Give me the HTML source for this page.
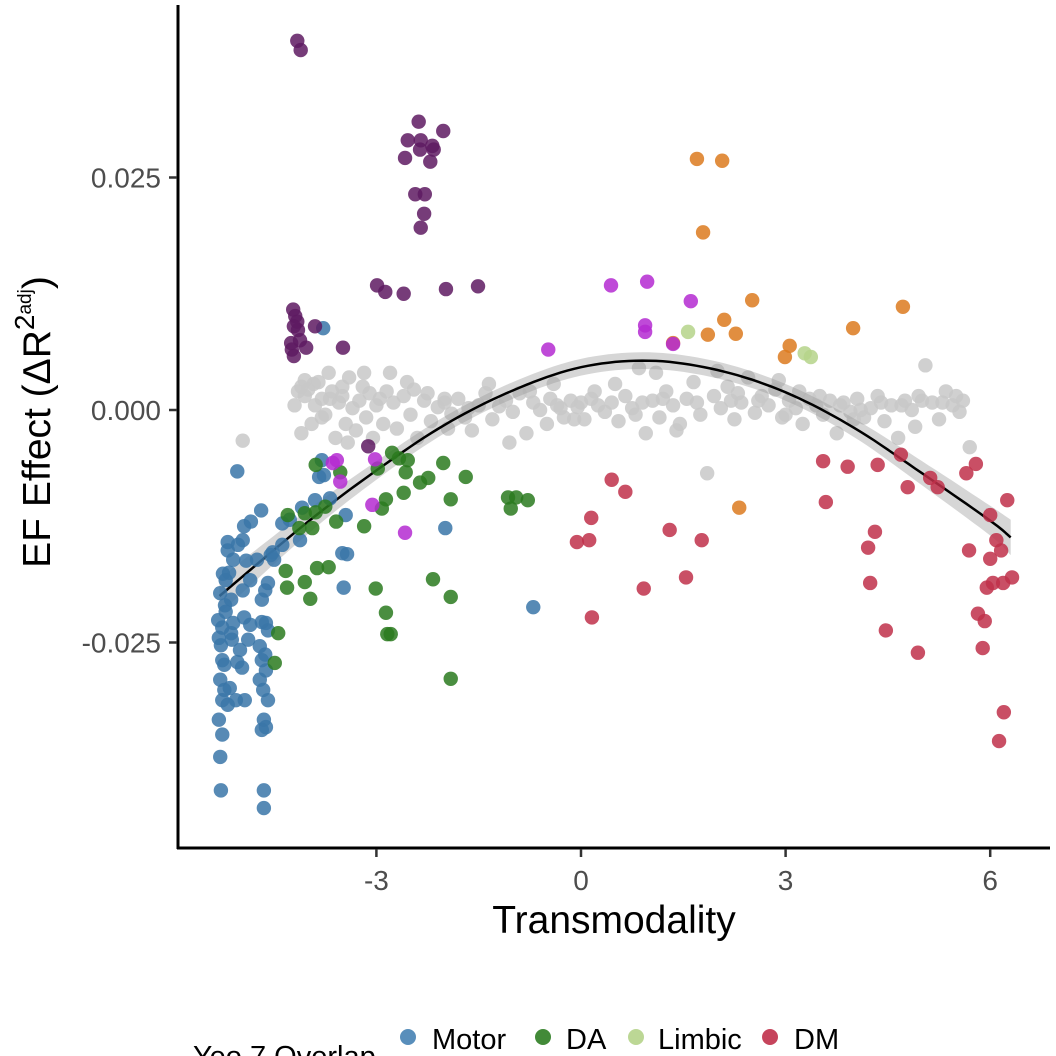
<!DOCTYPE html>
<html><head><meta charset="utf-8"><style>
html,body{margin:0;padding:0;background:#fff;overflow:hidden}
svg{display:block;font-family:"Liberation Sans",Arial,sans-serif}
</style></head><body>
<svg id="chart" width="1056" height="1056" viewBox="0 0 1056 1056">
<g id="grey-layer"></g>
<g id="smooth-layer"></g>
<g id="color-layer"></g>
<line x1="178" y1="5" x2="178" y2="849" stroke="#000" stroke-width="3"/>
<line x1="177" y1="848" x2="1050" y2="848" stroke="#000" stroke-width="3"/>
<g id="ticks"></g>
<text x="614" y="933" font-size="39" text-anchor="middle">Transmodality</text>
<text transform="translate(50,422) rotate(-90)" font-size="39" text-anchor="middle">EF Effect (ΔR<tspan font-size="28" dy="-16">2</tspan><tspan font-size="19" dy="-3">adj</tspan><tspan dy="19">)</tspan></text>
<g>
<text x="193" y="1066" font-size="29">Yeo 7 Overlap</text>
<g><circle cx="408" cy="1037" r="8" fill="#4682b4" opacity="0.9"/><text x="432" y="1049" font-size="29">Motor</text></g>
<g><circle cx="543" cy="1037" r="8" fill="#2e7d22" opacity="0.9"/><text x="566" y="1049" font-size="29">DA</text></g>
<g><circle cx="636" cy="1037" r="8" fill="#b5d38a" opacity="0.9"/><text x="658" y="1049" font-size="29">Limbic</text></g>
<g><circle cx="770" cy="1037" r="8" fill="#c0304a" opacity="0.9"/><text x="794" y="1049" font-size="29">DM</text></g>
<text x="432" y="1078" font-size="29">Visual</text>
<text x="566" y="1078" font-size="29">VA</text>
<text x="658" y="1078" font-size="29">FP</text>
<text x="794" y="1078" font-size="29">NonCl</text>
</g>
</svg>
<script>
const xTicks = [-3, 0, 3, 6];
const xTickLabels = ["-3", "0", "3", "6"];
const yTicks = [0.025, 0, -0.025];
const yTickLabels = ["0.025", "0.000", "-0.025"];
const smoothX = [-5.3, -4, -3, -2, -1, 0, 1, 2, 3, 4, 5, 6, 6.3];
const smoothY = [-0.0200, -0.0120, -0.0065, -0.0016, 0.0021, 0.0046, 0.0053, 0.0043, 0.0019, -0.0019, -0.0068, -0.0119, -0.0137];
const smoothSE = [0.0019, 0.0013, 0.0010, 0.0009, 0.0009, 0.0009, 0.0009, 0.0009, 0.0009, 0.0010, 0.0013, 0.0016, 0.0019];
const greyPts = [[-4.96,-0.0033],[-4.15,0.0020],[-4.10,0.0025],[-4.05,0.0015],[-4.0,0.0022],[-4.1,-0.0025],[-3.95,-0.0015],[-3.9,0.0005],[-3.85,0.0030],[-3.8,0.0012],[-3.75,-0.0005],[-3.7,0.0040],[-3.65,0.0020],[-3.6,-0.0030],[-3.55,0.0008],[-3.5,0.0015],[-3.45,-0.0015],[-3.4,0.0035],[-3.35,0.0002],[-3.3,-0.0022],[-3.25,0.0010],[-3.2,0.0025],[-3.15,-0.0008],[-3.1,0.0018],[-3.05,-0.0030],[-3.0,0.0005],[-2.95,0.0012],[-2.9,-0.0015],[-2.8,0.0040],[-2.75,0.0008],[-2.7,-0.0020],[-2.6,0.0015],[-2.5,-0.0005],[-2.45,0.0022],[-2.4,-0.0030],[-2.3,0.0010],[-2.2,-0.0012],[-2.1,0.0003],[-2.0,0.0008],[-1.9,-0.0004],[-1.8,0.0012],[-1.7,-0.0008],[-1.6,-0.0022],[-1.5,0.0005],[-1.4,0.0018],[-1.3,-0.0010],[-1.2,0.0004],[-1.1,0.0010],[-1.0,-0.0002],[-0.9,0.0018],[-0.8,-0.0025],[-0.7,0.0008],[-0.6,0.0000],[-0.5,-0.0015],[-0.45,0.0012],[-0.35,0.0005],[-0.25,-0.0008],[-0.15,0.0010],[-0.05,0.0003],[0.05,-0.0010],[0.15,0.0012],[0.25,0.0005],[0.35,-0.0002],[0.45,0.0008],[0.55,-0.0012],[0.65,0.0015],[0.75,0.0002],[0.85,0.0045],[0.95,-0.0025],[1.05,0.0010],[1.15,-0.0008],[1.25,0.0020],[1.35,0.0005],[1.45,-0.0015],[1.55,0.0012],[1.65,0.0030],[1.75,-0.0005],[1.85,-0.0068],[1.95,0.0015],[2.05,0.0002],[2.15,0.0025],[2.25,-0.0010],[2.35,0.0008],[2.45,0.0035],[2.55,-0.0003],[2.65,0.0015],[2.75,0.0005],[2.85,0.0022],[2.95,-0.0008],[3.05,0.0010],[3.15,0.0002],[3.25,-0.0015],[3.35,0.0012],[3.45,0.0005],[3.55,-0.0005],[3.65,0.0010],[3.75,-0.0025],[3.85,0.0008],[3.95,-0.0002],[4.05,0.0012],[4.15,-0.0008],[4.25,0.0002],[4.35,0.0015],[4.45,-0.0012],[4.55,0.0005],[4.65,-0.0030],[4.75,0.0010],[4.85,0.0000],[4.95,0.0015],[5.05,0.0048],[5.15,0.0008],[5.25,-0.0010],[5.35,0.0020],[5.45,0.0005],[5.55,-0.0002],[5.7,-0.0040],[5.6,0.0010],[-4.2,0.0005],[-3.92,0.0028],[-3.68,0.0012],[-3.42,-0.0035],[-3.18,0.0040],[-2.85,0.0020],[-2.55,0.0030],[-2.25,0.0018],[-1.95,-0.0020],[-1.65,0.0002],[-1.35,0.0028],[-1.05,-0.0035],[-0.75,0.0020],[-0.4,0.0028],[-0.1,-0.0010],[0.2,0.0020],[0.5,0.0028],[0.8,-0.0005],[1.1,0.0040],[1.4,-0.0022],[1.7,0.0008],[2.0,0.0042],[2.3,0.0018],[2.6,0.0010],[2.9,0.0032],[3.2,0.0020],[3.5,0.0015],[3.8,0.0005],[4.1,0.0000],[4.4,0.0008],[4.7,0.0005],[5.0,0.0010],[5.3,0.0008],[5.5,0.0015],[4.9,-0.0018],[4.0,-0.0010],[3.0,-0.0005],[2.2,0.0010],[1.2,0.0012],[0.9,0.0008],[0.0,0.0008],[-0.3,0.0002],[-2.0,0.0012],[-3.5,0.0025],[-3.8,-0.0008],[-4.05,0.0032]];
const motorPts = [[-5.04,-0.0066],[-5.25,-0.0176],[-5.16,-0.0175],[-5.29,-0.0197],[-5.22,-0.0210],[-5.13,-0.0204],[-5.10,-0.0229],[-5.21,-0.0217],[-5.26,-0.0234],[-5.31,-0.0245],[-5.28,-0.0253],[-5.26,-0.0269],[-5.29,-0.0290],[-5.23,-0.0301],[-5.26,-0.0312],[-5.31,-0.0333],[-5.26,-0.0349],[-5.29,-0.0373],[-5.28,-0.0409],[-5.12,-0.0247],[-5.00,-0.0258],[-5.04,-0.0271],[-4.97,-0.0277],[-5.23,-0.0274],[-5.15,-0.0299],[-5.06,-0.0312],[-5.18,-0.0317],[-4.93,-0.0312],[-4.88,-0.0247],[-4.85,-0.0231],[-4.94,-0.0223],[-4.96,-0.0194],[-4.85,-0.0183],[-4.91,-0.0162],[-4.94,-0.0125],[-4.84,-0.0120],[-5.03,-0.0145],[-4.96,-0.0140],[-5.18,-0.0142],[-4.75,-0.0161],[-4.69,-0.0108],[-4.68,-0.0204],[-4.63,-0.0194],[-4.59,-0.0186],[-4.68,-0.0228],[-4.62,-0.0229],[-4.59,-0.0237],[-4.68,-0.0269],[-4.62,-0.0280],[-4.71,-0.0290],[-4.66,-0.0301],[-4.59,-0.0312],[-4.65,-0.0333],[-4.62,-0.0341],[-4.68,-0.0344],[-4.65,-0.0409],[-4.65,-0.0428],[-4.71,-0.0254],[-4.63,-0.0263],[-4.55,-0.0156],[-4.52,-0.0153],[-4.38,-0.0122],[-4.27,-0.0118],[-4.09,-0.0105],[-3.90,-0.0097],[-3.77,-0.0070],[-3.84,-0.0072],[-3.80,-0.0054],[-3.45,-0.0113],[-3.50,-0.0154],[-3.43,-0.0155],[-3.48,-0.0191],[-3.68,-0.0095],[-3.78,0.0088],[-1.99,-0.0127],[-0.70,-0.0212],[-4.12,-0.0140],[-4.38,-0.0145],[-4.50,-0.0161],[-5.18,-0.0151],[-5.10,-0.0161],[-5.21,-0.0183],[-5.32,-0.0226],[-5.13,-0.0240]];
const daPts = [[-3.89,-0.0059],[-3.53,-0.0067],[-3.89,-0.0110],[-3.75,-0.0104],[-4.05,-0.0111],[-3.94,-0.0127],[-4.13,-0.0127],[-4.30,-0.0113],[-3.59,-0.0120],[-3.18,-0.0125],[-2.86,-0.0096],[-2.92,-0.0106],[-2.98,-0.0063],[-2.60,-0.0089],[-2.77,-0.0046],[-2.54,-0.0054],[-2.57,-0.0067],[-2.67,-0.0052],[-2.36,-0.0078],[-2.24,-0.0073],[-2.02,-0.0057],[-1.91,-0.0096],[-1.69,-0.0072],[-1.07,-0.0094],[-0.95,-0.0094],[-0.78,-0.0097],[-1.03,-0.0106],[-3.87,-0.0170],[-3.70,-0.0169],[-4.33,-0.0173],[-4.31,-0.0191],[-4.05,-0.0185],[-4.44,-0.0240],[-4.49,-0.0272],[-3.01,-0.0192],[-2.86,-0.0218],[-2.84,-0.0241],[-2.79,-0.0241],[-2.17,-0.0182],[-1.91,-0.0201],[-1.91,-0.0289],[-3.97,-0.0203]];
const limbicPts = [[1.57,0.0084],[3.28,0.0061],[3.37,0.0057]];
const dmPts = [[0.45,-0.0075],[0.15,-0.0116],[0.12,-0.0140],[-0.06,-0.0142],[0.16,-0.0223],[0.65,-0.0088],[1.30,-0.0129],[1.77,-0.0140],[1.54,-0.0180],[0.92,-0.0192],[3.55,-0.0055],[3.91,-0.0061],[3.59,-0.0099],[4.35,-0.0059],[4.69,-0.0048],[5.12,-0.0073],[5.23,-0.0083],[5.65,-0.0068],[5.79,-0.0058],[4.21,-0.0148],[4.31,-0.0131],[4.24,-0.0186],[4.47,-0.0237],[4.94,-0.0261],[5.69,-0.0151],[5.82,-0.0219],[5.89,-0.0256],[5.95,-0.0191],[6.04,-0.0186],[6.19,-0.0186],[6.00,-0.0160],[6.09,-0.0140],[6.16,-0.0151],[6.25,-0.0097],[6.00,-0.0113],[6.32,-0.0180],[6.20,-0.0325],[6.13,-0.0356],[4.79,-0.0083],[5.92,-0.0227]];
const visualPts = [[-4.16,0.0397],[-4.11,0.0387],[-4.22,0.0108],[-4.19,0.0101],[-4.16,0.0095],[-4.21,0.0090],[-4.15,0.0086],[-4.25,0.0072],[-4.12,0.0075],[-4.24,0.0065],[-4.03,0.0067],[-4.21,0.0058],[-3.90,0.0090],[-3.49,0.0067],[-2.58,0.0271],[-2.36,0.0280],[-2.54,0.0290],[-2.35,0.0290],[-2.18,0.0284],[-2.16,0.0280],[-2.02,0.0300],[-2.38,0.0310],[-2.21,0.0267],[-2.43,0.0232],[-2.29,0.0232],[-2.30,0.0211],[-2.35,0.0196],[-2.99,0.0134],[-2.87,0.0127],[-2.60,0.0125],[-1.98,0.0130],[-1.51,0.0133],[-3.12,-0.0039]];
const vaPts = [[-3.06,-0.0102],[-2.58,-0.0132],[-0.48,0.0065],[0.44,0.0134],[0.97,0.0138],[0.94,0.0091],[0.94,0.0084],[1.61,0.0117],[1.35,0.0071],[-3.64,-0.0057],[-3.58,-0.0054],[-3.53,-0.0077],[-3.02,-0.0053]];
const fpPts = [[1.70,0.0270],[2.07,0.0268],[1.79,0.0191],[2.10,0.0097],[1.86,0.0081],[2.27,0.0082],[2.51,0.0118],[2.99,0.0057],[3.06,0.0069],[3.99,0.0088],[4.72,0.0111],[2.32,-0.0105],[1.35,0.0072]];

const NS = "http://www.w3.org/2000/svg";
function xs(v){ return 581 + v * 68.2; }
function ys(v){ return 410 - v * 9300; }

const tickG = document.getElementById('ticks');
xTicks.forEach((t,i)=>{
  const l = document.createElementNS(NS,'line');
  l.setAttribute('x1',xs(t)); l.setAttribute('x2',xs(t));
  l.setAttribute('y1',849); l.setAttribute('y2',857);
  l.setAttribute('stroke','#333'); l.setAttribute('stroke-width','2.5');
  
  
  tickG.appendChild(l);
  const tx = document.createElementNS(NS,'text');
  tx.setAttribute('x',xs(t)); tx.setAttribute('y',890);
  tx.setAttribute('font-size','28'); tx.setAttribute('fill','#4d4d4d');
  tx.setAttribute('text-anchor','middle');
  tx.textContent = xTickLabels[i];
  
  
  tickG.appendChild(tx);
});
yTicks.forEach((t,i)=>{
  const l = document.createElementNS(NS,'line');
  l.setAttribute('x1',169); l.setAttribute('x2',177);
  l.setAttribute('y1',ys(t)); l.setAttribute('y2',ys(t));
  l.setAttribute('stroke','#333'); l.setAttribute('stroke-width','2.5');
  
  
  tickG.appendChild(l);
  const tx = document.createElementNS(NS,'text');
  tx.setAttribute('x',161); tx.setAttribute('y',ys(t)+10);
  tx.setAttribute('font-size','28'); tx.setAttribute('fill','#4d4d4d');
  tx.setAttribute('text-anchor','end');
  tx.textContent = yTickLabels[i];
  
  
  tickG.appendChild(tx);
});

function drawPts(layer, pts, color, name){
  pts.forEach(p=>{
    const c = document.createElementNS(NS,'circle');
    c.setAttribute('cx',xs(p[0])); c.setAttribute('cy',ys(p[1]));
    c.setAttribute('r','7.2'); c.setAttribute('fill',color);
    c.setAttribute('fill-opacity','0.85');
    
    
    layer.appendChild(c);
  });
}
const gl = document.getElementById('grey-layer');
drawPts(gl, greyPts, '#c8c8c8', 'point-noncl');

// Catmull-Rom smoothing through the read-off points (rendering only)
function curvePts(vals){
  const P = smoothX.map((x,i)=>[xs(x), ys(vals[i])]);
  const out = [];
  for(let i=0;i<P.length-1;i++){
    const p0=P[Math.max(0,i-1)], p1=P[i], p2=P[i+1], p3=P[Math.min(P.length-1,i+2)];
    for(let s=0;s<10;s++){
      const t=s/10, t2=t*t, t3=t2*t;
      const f=(a,b,c,d)=>0.5*((2*b)+(-a+c)*t+(2*a-5*b+4*c-d)*t2+(-a+3*b-3*c+d)*t3);
      out.push([f(p0[0],p1[0],p2[0],p3[0]), f(p0[1],p1[1],p2[1],p3[1])]);
    }
  }
  out.push(P[P.length-1]);
  return out;
}
const sl = document.getElementById('smooth-layer');
const upV = smoothY.map((v,i)=>v+smoothSE[i]);
const dnV = smoothY.map((v,i)=>v-smoothSE[i]);
const up = curvePts(upV), dn = curvePts(dnV).reverse(), mid = curvePts(smoothY);
const band = document.createElementNS(NS,'polygon');
band.setAttribute('points', up.concat(dn).map(p=>p[0].toFixed(1)+','+p[1].toFixed(1)).join(' '));
band.setAttribute('fill','#999'); band.setAttribute('fill-opacity','0.4');


sl.appendChild(band);
const line = document.createElementNS(NS,'polyline');
line.setAttribute('points', mid.map(p=>p[0].toFixed(1)+','+p[1].toFixed(1)).join(' '));
line.setAttribute('fill','none'); line.setAttribute('stroke','#000'); line.setAttribute('stroke-width','2.5');


sl.appendChild(line);

const cl = document.getElementById('color-layer');
drawPts(cl, motorPts, '#3a76a8', 'point-motor');
drawPts(cl, daPts, '#2a7a1e', 'point-da');
drawPts(cl, dmPts, '#c0304a', 'point-dm');
drawPts(cl, fpPts, '#dc7a1e', 'point-fp');
drawPts(cl, limbicPts, '#b5d38a', 'point-limbic');
drawPts(cl, visualPts, '#5e1a62', 'point-visual');
drawPts(cl, vaPts, '#b42ad1', 'point-va');
</script>
</body></html>
